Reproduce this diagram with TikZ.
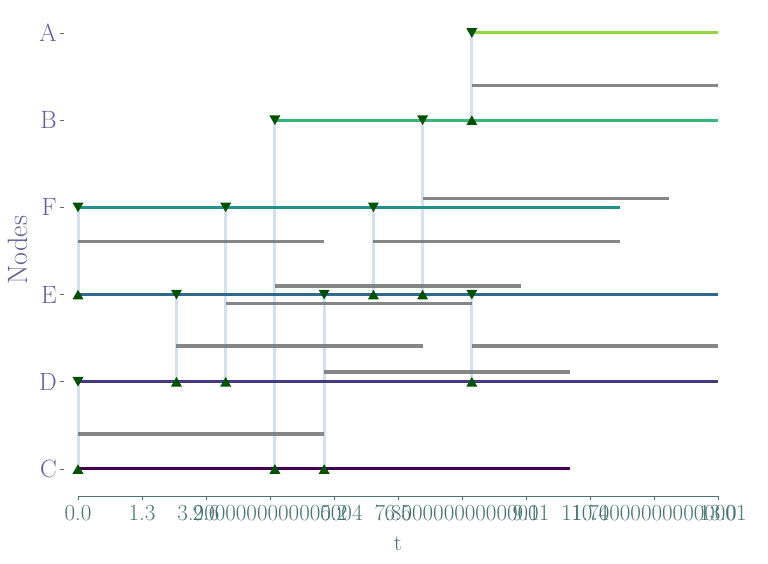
\documentclass[tikz,border=0pt]{standalone}
\usepackage{tikz}

\definecolor{vC}{HTML}{440154}
\definecolor{vD}{HTML}{443A83}
\definecolor{vE}{HTML}{31688E}
\definecolor{vF}{HTML}{21918C}
\definecolor{vB}{HTML}{35B779}
\definecolor{vA}{HTML}{90D743}
\definecolor{mkgreen}{HTML}{005200}
\definecolor{hopblue}{HTML}{4682B4}
\definecolor{xcol}{HTML}{487373}
\definecolor{ycol}{HTML}{60609A}

% send / receive marks
\newcommand{\dnmark}[1]{\fill[mkgreen] (#1) ++(-5.5pt,4.8pt) -- ++(11pt,0pt) -- ++(-5.5pt,-9.6pt) -- cycle;}
\newcommand{\upmark}[1]{\fill[mkgreen] (#1) ++(-5.5pt,-4.8pt) -- ++(11pt,0pt) -- ++(-5.5pt,9.6pt) -- cycle;}

\begin{document}
\begin{tikzpicture}[x=49.23pt,y=87.2pt,font=\fontsize{23}{27}\selectfont,
		lane/.style={line width=3pt},
		busy/.style={line width=3.5pt,color=gray!95},
		hop/.style={line width=3pt,color=hopblue,opacity=0.24},
		ylab/.style={anchor=east,text=ycol,inner sep=0pt,font=\fontsize{25}{29}\selectfont},
		xlab/.style={anchor=base,text=xcol,inner sep=0pt}]
			\path (-78pt,-95pt) (690pt,469pt); % the whole 768 x 564 frame
			% busy intervals, five units each
			\draw[busy] (0,0.4) -- (5,0.4);
			\draw[busy] (0,2.61) -- (5,2.61);
			\draw[busy] (2,1.41) -- (7,1.41);
			\draw[busy] (3,1.9) -- (8,1.9);
			\draw[busy] (4,2.1) -- (9,2.1);
			\draw[busy] (5,1.11) -- (10,1.11);
			\draw[busy] (6,2.61) -- (11,2.61);
			\draw[busy] (7,3.1) -- (12,3.1);
			\draw[busy] (8,4.4) -- (13,4.4);
			\draw[busy] (8,1.41) -- (13,1.41);
			% hops from sender down to receiver
			\draw[hop] (0,3) -- (0,2);
			\draw[hop] (0,1) -- (0,0);
			\draw[hop] (2,2) -- (2,1);
			\draw[hop] (3,3) -- (3,1);
			\draw[hop] (4,4) -- (4,0);
			\draw[hop] (5,2) -- (5,0);
			\draw[hop] (6,3) -- (6,2);
			\draw[hop] (7,4) -- (7,2);
			\draw[hop] (8,5) -- (8,4);
			\draw[hop] (8,2) -- (8,1);
			% one lane per node: C D E F B A
			\draw[lane,vC] (0,0) -- (10,0);
			\draw[lane,vD] (0,1) -- (13,1);
			\draw[lane,vE] (0,2) -- (13,2);
			\draw[lane,vF] (0,3) -- (11,3);
			\draw[lane,vB] (4,4) -- (13,4);
			\draw[lane,vA] (8,5) -- (13,5);
			% marks
			\dnmark{8,5}
			\dnmark{4,4} \dnmark{7,4} \upmark{8,4}
			\dnmark{0,3} \dnmark{3,3} \dnmark{6,3}
			\upmark{0,2} \dnmark{2,2} \dnmark{5,2} \upmark{6,2} \upmark{7,2} \dnmark{8,2}
			\dnmark{0,1} \upmark{2,1} \upmark{3,1} \upmark{8,1}
			\upmark{0,0} \upmark{4,0} \upmark{5,0}
			% t axis
			\draw[xcol,line width=0.8pt] (0,-0.31) -- (13,-0.31);
			\draw[xcol,line width=0.8pt] (0,-0.31) -- (0,-0.36) (1.3,-0.31) -- (1.3,-0.36)
				(2.6,-0.31) -- (2.6,-0.36) (3.9,-0.31) -- (3.9,-0.36) (5.2,-0.31) -- (5.2,-0.36)
				(6.5,-0.31) -- (6.5,-0.36) (7.8,-0.31) -- (7.8,-0.36) (9.1,-0.31) -- (9.1,-0.36)
				(10.4,-0.31) -- (10.4,-0.36) (11.7,-0.31) -- (11.7,-0.36) (13,-0.31) -- (13,-0.36);
			\node[xlab] (x0) at (0,-0.59) {0.0};
			\node[xlab] (x1) at (1.3,-0.59) {1.3};
			\node[xlab] (x2) at (2.6,-0.59) {2.6};
			\node[xlab] (x3) at (3.9,-0.59) {3.9000000000000004};
			\node[xlab] (x4) at (5.2,-0.59) {5.2};
			\node[xlab] (x5) at (6.5,-0.59) {6.5};
			\node[xlab] (x6) at (7.8,-0.59) {7.800000000000001};
			\node[xlab] (x7) at (9.1,-0.59) {9.1};
			\node[xlab] (x8) at (10.4,-0.59) {10.4};
			\node[xlab] (x9) at (11.7,-0.59) {11.700000000000001};
			\node[xlab] (x10) at (13,-0.59) {13.0};
			\node[xlab] (xtitle) at (6.5,-0.93) {t};
			% node axis
			\draw[gray!80!black,line width=0.8pt] (-0.366,5) -- (-0.29,5) (-0.366,4) -- (-0.29,4)
				(-0.366,3) -- (-0.29,3) (-0.366,2) -- (-0.29,2) (-0.366,1) -- (-0.29,1) (-0.366,0) -- (-0.29,0);
			\node[ylab] (yA) at (-0.427,5) {A};
			\node[ylab] (yB) at (-0.427,4) {B};
			\node[ylab] (yF) at (-0.427,3) {F};
			\node[ylab] (yE) at (-0.427,2) {E};
			\node[ylab] (yD) at (-0.427,1) {D};
			\node[ylab] (yC) at (-0.427,0) {C};
			\node[text=ycol,rotate=90,font=\fontsize{28}{32}\selectfont] (ytitle) at (-1.22,2.51) {Nodes};
		\end{tikzpicture}
\end{document}
